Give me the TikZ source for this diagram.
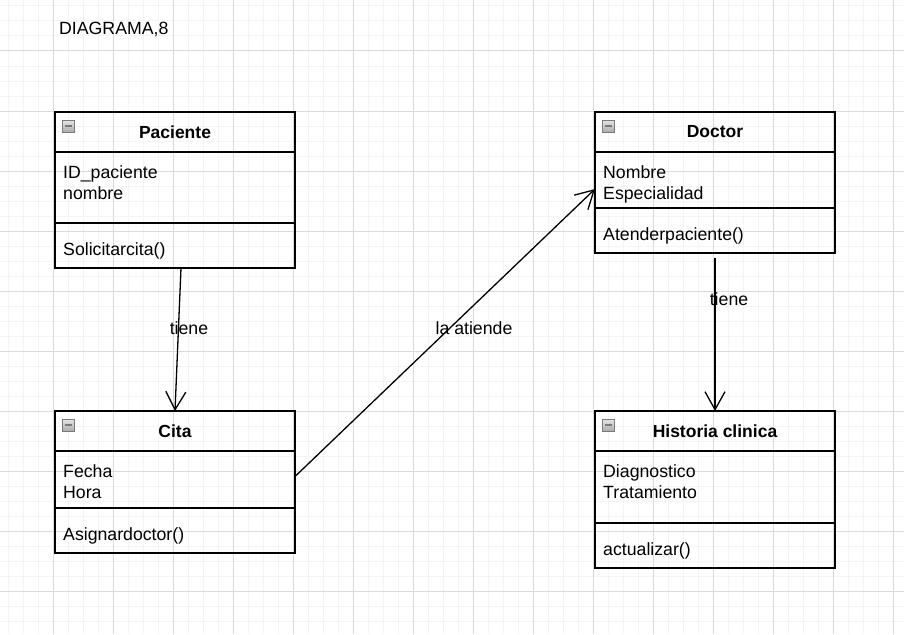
\documentclass[tikz,border=0pt]{standalone}
\usepackage{fontspec}
\setmainfont{Liberation Sans}
\usetikzlibrary{positioning, arrows.meta}

\definecolor{gridminor}{HTML}{F4F4F4}
\definecolor{gridmajor}{HTML}{DADADA}
\definecolor{iconedge}{HTML}{7A7A7A}

\tikzset{
  classhead/.style={draw, line width=1.3pt, outer sep=0pt, inner sep=0pt,
    minimum width=240pt, minimum height=40pt,
    font=\fontsize{17.5}{21}\selectfont\bfseries},
  classsec/.style={draw, line width=1.3pt, outer sep=0pt, inner sep=0pt,
    minimum width=240pt},
  member/.style={anchor=north west, align=left, inner sep=0pt,
    font=\fontsize{17.7}{21}\selectfont, execute at begin node=\strut},
  collapse/.style={draw=iconedge, top color=gray!20, bottom color=gray!65,
    line width=0.8pt, minimum size=12pt, inner sep=0pt,
    path picture={\draw[line width=1.6pt]
      ([xshift=-3.5pt]path picture bounding box.center) --
      ([xshift=3.5pt]path picture bounding box.center);}},
  assoc/.style={-{Straight Barb[length=18pt,width=20pt]}, line width=1.3pt},
  lbl/.style={inner sep=0pt, font=\fontsize{17.7}{21}\selectfont},
}

\begin{document}
\begin{tikzpicture}[x=1pt, y=-1pt, node distance=299pt and 540pt]
\useasboundingbox (0,0) rectangle (904,634);

% grid
\foreach \gx in {8,23,...,898} \draw[gridminor, line width=1pt] (\gx,0) -- (\gx,634);
\foreach \gy in {6,21,...,631} \draw[gridminor, line width=1pt] (0,\gy) -- (904,\gy);
\foreach \gx in {53,113,...,893} \draw[gridmajor, line width=1pt] (\gx,0) -- (\gx,634);
\foreach \gy in {51,111,...,591} \draw[gridmajor, line width=1pt] (0,\gy) -- (904,\gy);

\node[lbl, anchor=base west] (title) at (59,34.3) {DIAGRAMA,8};

% Paciente
\node[classhead] (pacH) at (175,132) {Paciente};
\node[classsec, minimum height=71pt, below=0pt of pacH] (pacA) {};
\node[classsec, minimum height=45pt, below=0pt of pacA] (pacM) {};
\node[collapse] (pacI) at ([shift={(13,14)}]pacH.north west) {};
\node[member] (pacAt) at ([shift={(8,13.3)}]pacA.north west) {ID\_paciente\\nombre};
\node[member] (pacMt) at ([shift={(8,17.3)}]pacM.north west) {Solicitarcita()};

% Doctor
\node[classhead, on grid, right=of pacH] (docH) {Doctor};
\node[classsec, minimum height=56pt, below=0pt of docH] (docA) {};
\node[classsec, minimum height=45pt, below=0pt of docA] (docM) {};
\node[collapse] (docI) at ([shift={(13,14)}]docH.north west) {};
\node[member] (docAt) at ([shift={(8,13.3)}]docA.north west) {Nombre\\Especialidad};
\node[member] (docMt) at ([shift={(8,17.3)}]docM.north west) {Atenderpaciente()};

% Cita
\node[classhead, on grid, below=of pacH] (citaH) {Cita};
\node[classsec, minimum height=57pt, below=0pt of citaH] (citaA) {};
\node[classsec, minimum height=45pt, below=0pt of citaA] (citaM) {};
\node[collapse] (citaI) at ([shift={(13,14)}]citaH.north west) {};
\node[member] (citaAt) at ([shift={(8,13.3)}]citaA.north west) {Fecha\\Hora};
\node[member] (citaMt) at ([shift={(8,17.3)}]citaM.north west) {Asignardoctor()};

% Historia clinica
\node[classhead, on grid, below=of docH] (histH) {Historia clinica};
\node[classsec, minimum height=72pt, below=0pt of histH] (histA) {};
\node[classsec, minimum height=45pt, below=0pt of histA] (histM) {};
\node[collapse] (histI) at ([shift={(13,14)}]histH.north west) {};
\node[member] (histAt) at ([shift={(8,13.3)}]histA.north west) {Diagnostico\\Tratamiento};
\node[member] (histMt) at ([shift={(8,17.3)}]histM.north west) {actualizar()};

% associations
\draw[assoc] ([shift={(6,0)}]pacM.south) -- node[lbl, pos=0.42, xshift=10.5pt] (tiene1) {tiene} (citaH.north);
\draw[assoc] ([shift={(0,5)}]docM.south) -- node[lbl, pos=0.268, xshift=14pt] (tiene2) {tiene} (histH.north);
\draw[assoc] ([shift={(0,-3)}]citaA.east) -- node[lbl, pos=0.5, xshift=29pt, yshift=4.5pt] (atiende) {la atiende} ([shift={(0,9)}]docA.west);
\end{tikzpicture}
\end{document}
